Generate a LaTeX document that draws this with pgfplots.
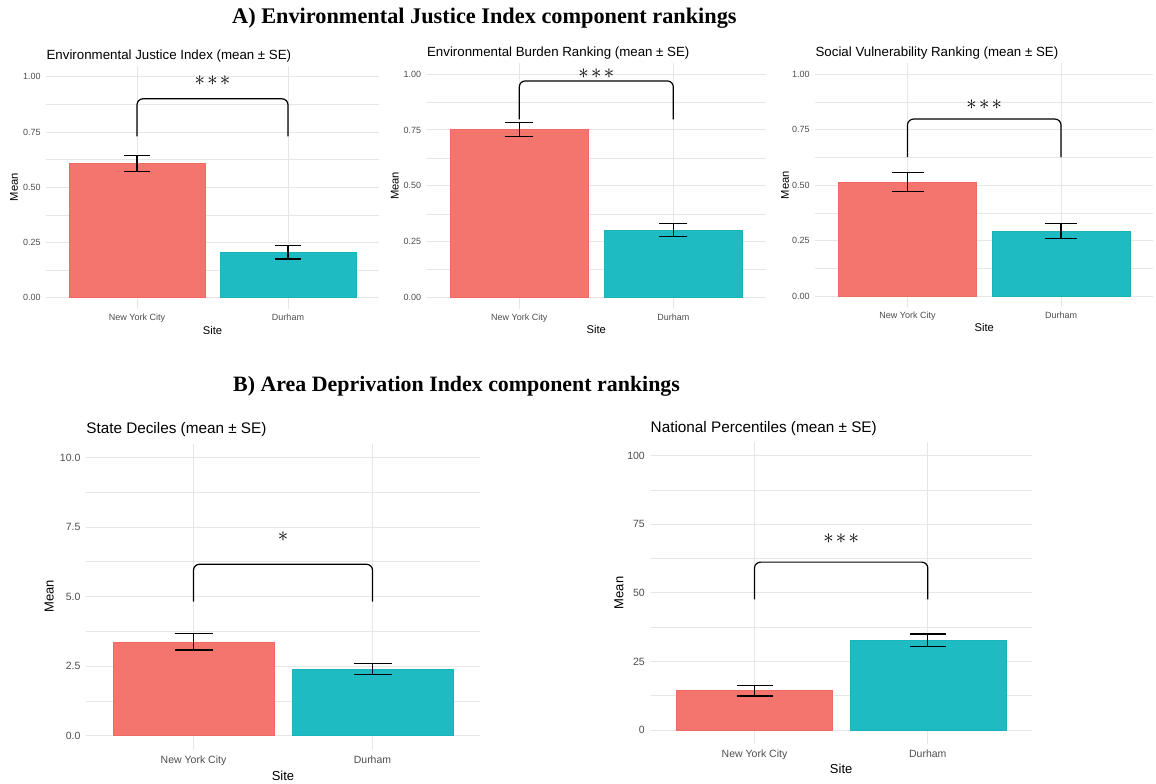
\documentclass[border=0pt]{standalone}
\usepackage{pgfplots}
\pgfplotsset{compat=1.18}
\usepackage{fontspec}
\setmainfont{Liberation Sans}
\newfontfamily\serifb{Liberation Serif}
\definecolor{ggred}{HTML}{F3756E}
\definecolor{ggredd}{HTML}{EE6A62}
\definecolor{ggteal}{HTML}{1EBCC2}
\definecolor{ggteald}{HTML}{19B3B9}
\definecolor{gridc}{HTML}{E6E6E6}
\definecolor{tickc}{HTML}{4D4D4D}
\pgfplotsset{
  gg/.style={
    scale only axis, anchor=south west, clip=false,
    xmin=0.4, xmax=2.6, xtick={1,2}, xticklabels={New York City, Durham},
    axis line style={draw=none},
    major tick style={draw=none}, minor tick style={draw=none},
    xmajorgrids, ymajorgrids, yminorgrids, minor y tick num=1,
    major grid style={color=gridc, line width=0.9pt},
    minor grid style={color=gridc, line width=0.6pt},
    /pgf/number format/assume math mode=true,
    ticklabel style={text=tickc},
  },
  ggtop/.style={gg,
    ymin=-0.05, ymax=1.05, ytick={0,0.25,0.5,0.75,1},
    yticklabel style={/pgf/number format/fixed, /pgf/number format/fixed zerofill, /pgf/number format/precision=2},
    ticklabel style={font=\fontsize{9}{10}\selectfont},
    yticklabel style={xshift=-5.5pt},
    xticklabel style={yshift=-5pt},
  },
  ggbot/.style={gg,
    ticklabel style={font=\fontsize{10.5}{12}\selectfont},
    yticklabel style={xshift=-5.5pt},
    xticklabel style={yshift=-6pt},
  },
  redbar/.style={ybar, bar width=0.9, bar shift=0, fill=ggred, draw=ggredd, line width=0.6pt,
    error bars/.cd, y dir=both, y explicit,
    error bar style={black, line width=1.3pt},
    error mark options={black, line width=1.3pt, rotate=90, mark size=#1}},
  tealbar/.style={ybar, bar width=0.9, bar shift=0, fill=ggteal, draw=ggteald, line width=0.6pt,
    error bars/.cd, y dir=both, y explicit,
    error bar style={black, line width=1.3pt},
    error mark options={black, line width=1.3pt, rotate=90, mark size=#1}},
  bracket/.style={black, line width=1.2pt, no marks, sharp plot, rounded corners=6pt},
}
\newcommand{\stars}[1]{\fontsize{20.74}{24}\selectfont #1}
\begin{document}
\begin{tikzpicture}[every node/.style={inner sep=0pt}]
\path[use as bounding box] (0,0) rectangle (1156pt,-784pt);
\node[anchor=base west, font=\serifb\bfseries\fontsize{22.3}{24}\selectfont] at (232pt,-24pt) {A) Environmental Justice Index component rankings};
\node[anchor=base west, font=\serifb\bfseries\fontsize{21.9}{24}\selectfont] at (233pt,-391pt) {B) Area Deprivation Index component rankings};

% Panel 1
\begin{axis}[ggtop, at={(46.4pt,-308.75pt)}, width=332.2pt, height=243.1pt]
\addplot[redbar=13pt] coordinates {(1,0.608) += (0,0.035) -= (0,0.036)};
\addplot[tealbar=13pt] coordinates {(2,0.205) += (0,0.030) -= (0,0.030)};
\addplot[bracket] coordinates {(1,0.73) (1,0.90) (2,0.90) (2,0.73)};
\node at (axis cs:1.5,0.98) {\stars{${\ast}\mkern2mu{\ast}\mkern2mu{\ast}$}};
\node[anchor=base west, font=\fontsize{13.3}{15}\selectfont] at ([yshift=6.3pt]rel axis cs:0,1) {Environmental Justice Index (mean ± SE)};
\node[font=\fontsize{11.2}{13}\selectfont] at ([yshift=-21.3pt]rel axis cs:0.5,0) {Site};
\node[rotate=90, font=\fontsize{11.2}{13}\selectfont] at ([xshift=-32.4pt]rel axis cs:0,0.5) {Mean};
\end{axis}

% Panel 2
\begin{axis}[ggtop, at={(426.9pt,-308.9pt)}, width=338.8pt, height=246.1pt]
\addplot[redbar=14pt] coordinates {(1,0.753) += (0,0.031) -= (0,0.033)};
\addplot[tealbar=14pt] coordinates {(2,0.301) += (0,0.032) -= (0,0.028)};
\addplot[bracket] coordinates {(1,0.797) (1,0.969) (2,0.969) (2,0.797)};
\node at (axis cs:1.5,1.0) {\stars{${\ast}\mkern2mu{\ast}\mkern2mu{\ast}$}};
\node[anchor=base west, font=\fontsize{13.3}{15}\selectfont] at ([yshift=6.3pt]rel axis cs:0,1) {Environmental Burden Ranking (mean ± SE)};
\node[font=\fontsize{11.2}{13}\selectfont] at ([yshift=-21pt]rel axis cs:0.5,0) {Site};
\node[rotate=90, font=\fontsize{11.2}{13}\selectfont] at ([xshift=-32pt]rel axis cs:0,0.5) {Mean};
\end{axis}

% Panel 3
\begin{axis}[ggtop, at={(815.4pt,-307.1pt)}, width=337.7pt, height=243.9pt]
\addplot[redbar=16pt] coordinates {(1,0.511) += (0,0.045) -= (0,0.041)};
\addplot[tealbar=16pt] coordinates {(2,0.292) += (0,0.036) -= (0,0.034)};
\addplot[bracket] coordinates {(1,0.626) (1,0.798) (2,0.798) (2,0.626)};
\node at (axis cs:1.5,0.861) {\stars{${\ast}\mkern2mu{\ast}\mkern2mu{\ast}$}};
\node[anchor=base west, font=\fontsize{13.3}{15}\selectfont] at ([yshift=6.3pt]rel axis cs:0,1) {Social Vulnerability Ranking (mean ± SE)};
\node[font=\fontsize{11.2}{13}\selectfont] at ([yshift=-20.6pt]rel axis cs:0.5,0) {Site};
\node[rotate=90, font=\fontsize{11.2}{13}\selectfont] at ([xshift=-30.4pt]rel axis cs:0,0.5) {Mean};
\end{axis}

% Panel 4
\begin{axis}[ggbot, at={(86.1pt,-749.6pt)}, width=393.8pt, height=306.1pt,
  ymin=-0.5, ymax=10.5, ytick={0,2.5,5,7.5,10},
  yticklabel style={/pgf/number format/fixed, /pgf/number format/fixed zerofill, /pgf/number format/precision=1}]
\addplot[redbar=19pt] coordinates {(1,3.37) += (0,0.31) -= (0,0.29)};
\addplot[tealbar=19pt] coordinates {(2,2.39) += (0,0.21) -= (0,0.18)};
\addplot[bracket] coordinates {(1,4.82) (1,6.16) (2,6.16) (2,4.82)};
\node at (axis cs:1.5,7.15) {\stars{$\ast$}};
\node[anchor=base west, font=\fontsize{15.3}{17}\selectfont] at ([yshift=10.2pt]rel axis cs:0,1) {State Deciles (mean ± SE)};
\node[font=\fontsize{13}{15}\selectfont] at ([yshift=-26.1pt]rel axis cs:0.5,0) {Site};
\node[rotate=90, font=\fontsize{13}{15}\selectfont] at ([xshift=-36.8pt]rel axis cs:0,0.5) {Mean};
\end{axis}

% Panel 5
\begin{axis}[ggbot, at={(650.5pt,-743.7pt)}, width=381.3pt, height=301.7pt,
  ymin=-5, ymax=105, ytick={0,25,50,75,100}]
\addplot[redbar=18pt] coordinates {(1,14.3) += (0,2.0) -= (0,1.9)};
\addplot[tealbar=18pt] coordinates {(2,32.8) += (0,2.2) -= (0,2.4)};
\addplot[bracket] coordinates {(1,47.6) (1,61.2) (2,61.2) (2,47.6)};
\node at (axis cs:1.5,69.9) {\stars{${\ast}\mkern2mu{\ast}\mkern2mu{\ast}$}};
\node[anchor=base west, font=\fontsize{15.3}{17}\selectfont] at ([yshift=9.7pt]rel axis cs:0,1) {National Percentiles (mean ± SE)};
\node[font=\fontsize{13}{15}\selectfont] at ([yshift=-25.3pt]rel axis cs:0.5,0) {Site};
\node[rotate=90, font=\fontsize{13}{15}\selectfont] at ([xshift=-31.5pt]rel axis cs:0,0.5) {Mean};
\end{axis}
\end{tikzpicture}
\end{document}
